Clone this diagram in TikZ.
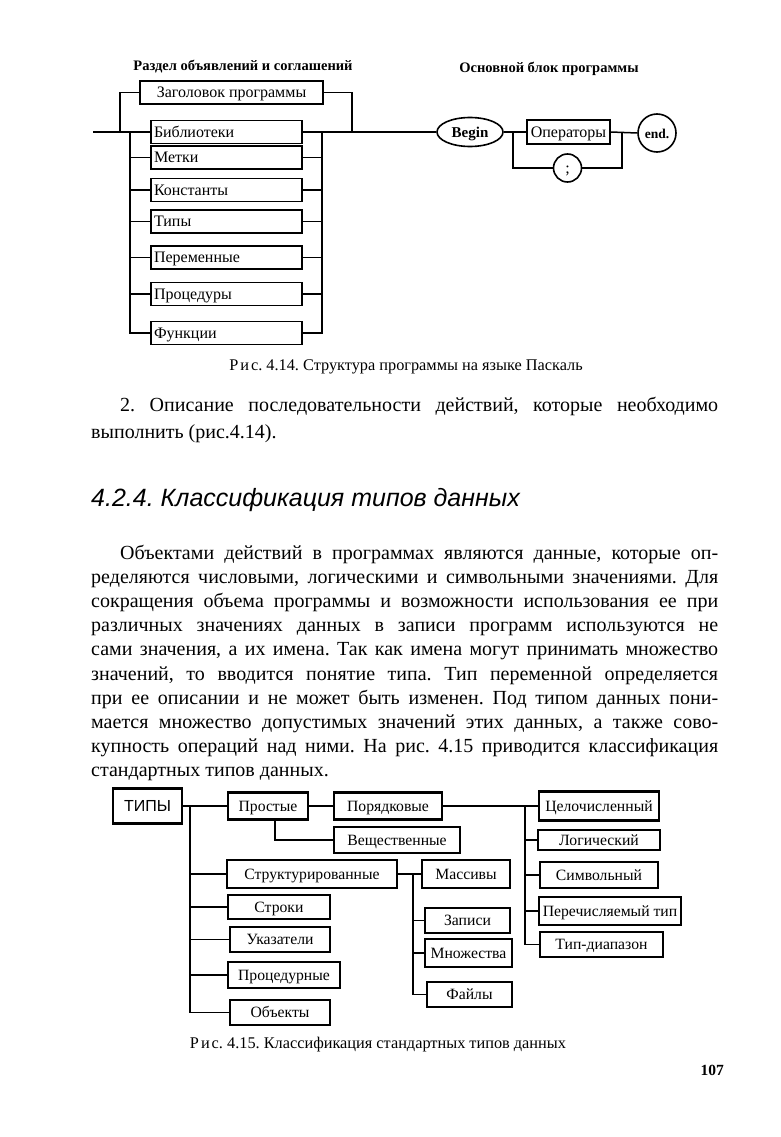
\documentclass[tikz,border=0pt]{standalone}
\usepackage{fontspec}
\setmainfont{Liberation Serif}
\setsansfont{Liberation Sans}
\usepackage{tikz}
\usetikzlibrary{shapes.geometric,positioning}
\frenchspacing

\begin{document}
\begin{tikzpicture}[x=1pt,y=-1pt,
  ln/.style={line width=1.5pt},
  box/.style={draw, line width=1.6pt, inner ysep=0pt, minimum height=23pt, text height=10.5pt, text depth=0pt, font=\fontsize{16}{18}\selectfont},
  lbox/.style={box, inner xsep=3pt, text width=145pt, align=left},
  tbox/.style={draw, line width=2.4pt, inner sep=0pt, text height=10.5pt, text depth=0pt, font=\fontsize{15.7}{18}\selectfont},
  title/.style={anchor=base, inner sep=0pt, font=\fontsize{14.5}{17}\selectfont\bfseries},
  capt/.style={anchor=base, inner sep=0pt, font=\fontsize{16.3}{19}\selectfont},
  body/.style={anchor=base west, inner sep=0pt, font=\fontsize{20}{24}\selectfont},
]
\useasboundingbox (0,0) rectangle (781,1137);

% Fig 4.14 titles
\node[title] (ttl1) at (243,71) {Раздел объявлений и соглашений};
\node[title] (ttl2) at (549,73) {Основной блок программы};

% declarations
\node[box, minimum width=183pt] (head) at (231.5,92.5) {Заголовок программы};
\node[lbox] (lib) at (226.5,132) {Библиотеки};
\node[lbox] (lbl) at (226.5,157.5) {Метки};
\node[lbox] (cnst) at (226.5,190) {Константы};
\node[lbox] (typ) at (226.5,221.5) {Типы};
\node[lbox] (var) at (226.5,257.5) {Переменные};
\node[lbox] (proc) at (226.5,294) {Процедуры};
\node[lbox] (func) at (226.5,333) {Функции};

\coordinate (in) at (93,132);
\coordinate (lbyp) at (120,132);
\coordinate (rbyp) at (352,132);
\coordinate (lrail) at (130,132);
\coordinate (rrail) at (322,132);

% main block
\node[box, ellipse, minimum width=66pt, minimum height=29pt, inner sep=0pt, font=\fontsize{15}{17}\selectfont\bfseries] (begin) at (470,132) {Begin};
\node[box, minimum width=83pt, minimum height=24pt, inner xsep=0pt] (ops) at (568.5,132) {Операторы};
\node[box, circle, minimum size=38pt, inner sep=0pt, font=\fontsize{13.5}{16}\selectfont\bfseries] (endn) at (657,133) {end.};
\node[box, circle, minimum size=28pt, inner sep=0pt] (semi) at (567.5,168) {;};
\coordinate (lloop) at (513,132);
\coordinate (rloop) at (622,132);

% lines
\draw[ln] (in) -- (lib.west);
\draw[ln] (lib.east) -- (begin.west);
\draw[ln] (lbyp) |- (head.west);
\draw[ln] (head.east) -| (rbyp);
\foreach \n in {lbl,cnst,typ,var,proc,func} {
  \draw[ln] (lrail) |- (\n.west);
  \draw[ln] (\n.east) -| (rrail);
}
\draw[ln] (begin.east) -- (ops.west);
\draw[ln] (ops.east) -- (endn.west);
\draw[ln] (lloop) |- (semi.west);
\draw[ln] (semi.east) -| (rloop);

\node[capt] (cap1) at (406,370) {Р{\kern2pt}и{\kern2pt}с. 4.14. Структура программы на языке Паскаль};

% text
\node[body] (p1) at (120,411) {\makebox[598pt][s]{2. Описание последовательности действий, которые необходимо}};
\node[body] (p2) at (91,438) {выполнить (рис.4.14).};

\node[body, font=\fontsize{25}{29}\selectfont\sffamily\itshape] (sec) at (91,506) {4.2.4. Классификация типов данных};

\node[body] (b1) at (120,559) {\makebox[598pt][s]{Объектами действий в программах являются данные, которые оп-}};
\node[body] (b2) at (91,583.2) {\makebox[627pt][s]{ределяются числовыми, логическими и символьными значениями. Для}};
\node[body] (b3) at (91,607.4) {\makebox[627pt][s]{сокращения объема программы и возможности использования ее при}};
\node[body] (b4) at (91,631.6) {\makebox[627pt][s]{различных значениях данных в записи программ используются не}};
\node[body] (b5) at (91,655.8) {\makebox[627pt][s]{сами значения, а их имена. Так как имена могут принимать множество}};
\node[body] (b6) at (91,680) {\makebox[627pt][s]{значений, то вводится понятие типа. Тип переменной определяется}};
\node[body] (b7) at (91,704.2) {\makebox[627pt][s]{при ее описании и не может быть изменен. Под типом данных пони-}};
\node[body] (b8) at (91,728.4) {\makebox[627pt][s]{мается множество допустимых значений этих данных, а также сово-}};
\node[body] (b9) at (91,752.6) {\makebox[627pt][s]{купность операций над ними. На рис. 4.15 приводится классификация}};
\node[body] (b10) at (91,776.8) {стандартных типов данных.};

% Fig 4.15
\node[tbox, minimum width=69pt, minimum height=35pt, text height=11.5pt, font=\fontsize{16}{18}\selectfont\sffamily] (types) at (147.5,806) {ТИПЫ};
\coordinate (trail) at (190,806);

% simple
\node[tbox, minimum width=80pt, minimum height=27pt] (simple) at (268,806) {Простые};
\node[tbox, minimum width=108pt, minimum height=27pt] (ordinal) at (388,806) {Порядковые};
\node[tbox, minimum width=126pt, minimum height=26pt] (real) at (397,840) {Вещественные};
\coordinate (orail) at (525,806);
\node[tbox, minimum width=120pt, minimum height=29pt] (int) at (599,806) {Целочисленный};
\node[tbox, minimum width=122pt, minimum height=20pt] (logic) at (599,840) {Логический};
\node[tbox, minimum width=118pt, minimum height=26pt] (char) at (599,875) {Символьный};
\node[tbox, minimum width=142pt, minimum height=28pt] (enum) at (610,911) {Перечисляемый тип};
\node[tbox, minimum width=123pt, minimum height=25pt] (range) at (601.5,944.5) {Тип-диапазон};

% structured
\node[tbox, minimum width=170pt, minimum height=28pt] (struct) at (312,874) {Структурированные};
\coordinate (srail) at (413,874);
\node[tbox, minimum width=88pt, minimum height=28pt] (arr) at (466,874) {Массивы};
\node[tbox, minimum width=85pt, minimum height=25pt] (rec) at (467.5,920.5) {Записи};
\node[tbox, minimum width=87pt, minimum height=28pt] (sets) at (468.5,953) {Множества};
\node[tbox, minimum width=85pt, minimum height=25pt] (files) at (469.5,994.5) {Файлы};

% others
\node[tbox, minimum width=102pt, minimum height=24pt] (str) at (279,907) {Строки};
\node[tbox, minimum width=100pt, minimum height=25pt] (ptr) at (280,939.5) {Указатели};
\node[tbox, minimum width=112pt, minimum height=26pt] (proct) at (284,975) {Процедурные};
\node[tbox, minimum width=100pt, minimum height=25pt] (obj) at (280,1012.5) {Объекты};

% lines
\draw[ln] (types.east) -- (trail);
\foreach \n in {simple,struct,str,ptr,proct,obj}
  \draw[ln] (trail) |- (\n.west);
\draw[ln] (simple.east) -- (ordinal.west);
\draw[ln] ([xshift=7pt]simple.south) |- (real.west);
\draw[ln] (ordinal.east) -- (orail);
\foreach \n in {int,logic,char,enum,range}
  \draw[ln] (orail) |- (\n.west);
\draw[ln] (struct.east) -- (srail);
\foreach \n in {arr,rec,sets,files}
  \draw[ln] (srail) |- (\n.west);

\node[capt] (cap2) at (378,1048) {Р{\kern2pt}и{\kern2pt}с. 4.15. Классификация стандартных типов данных};
\node[anchor=base east, inner sep=0pt, font=\fontsize{15.5}{18}\selectfont\bfseries] (pg) at (724,1075) {107};
\end{tikzpicture}
\end{document}
